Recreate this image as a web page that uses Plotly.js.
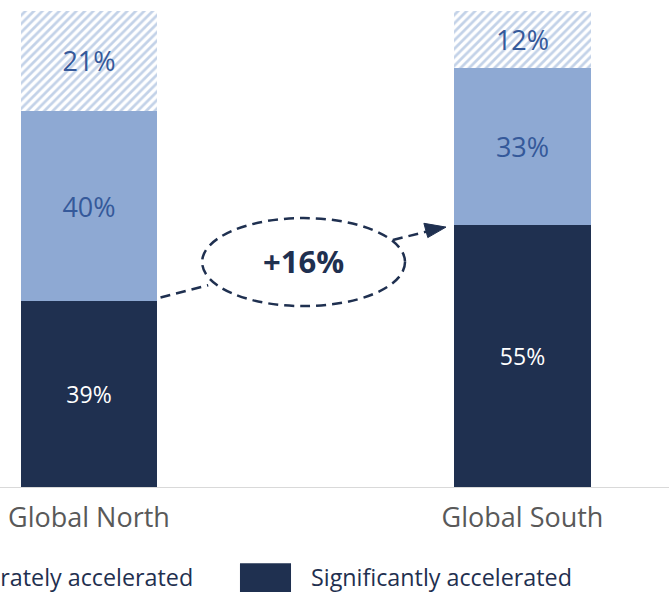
<!DOCTYPE html>
<html>
<head>
<meta charset="utf-8">
<script src="https://cdn.plot.ly/plotly-3.0.1.min.js"></script>
<style>html,body{margin:0;padding:0;background:#fff;}#chart{width:669px;height:592px;}</style>
</head>
<body>
<div id="chart"></div>
<script>
const categories = ["Global North", "Global South"];
const significantly = [39, 55];
const moderately = [40, 33];
const slightly = [21, 12];
const seriesNames = ["Significantly accelerated", "Moderately accelerated", "Slightly accelerated"];
const changeLabel = "+16%";

const NAVY = "#1F3050";
const LIGHT = "#8EA9D3";
const HATCH = "#C3D2E8";
const LBLUE = "#35599A";
const FONT = "Open Sans, Noto Sans, DejaVu Sans, sans-serif";
const BW = 0.314;

const pct = v => v.map(x => x + "%");

const traces = [
  {type: "bar", name: seriesNames[0], x: categories, y: significantly, width: BW,
   marker: {color: NAVY}, text: pct(significantly), textposition: "inside",
   insidetextanchor: "middle", textfont: {color: "#ffffff", size: 23, family: FONT}},
  {type: "bar", name: seriesNames[1], x: categories, y: moderately, width: BW,
   marker: {color: LIGHT}, text: pct(moderately), textposition: "inside",
   insidetextanchor: "middle", textfont: {color: LBLUE, size: 27, family: FONT}},
  {type: "bar", name: seriesNames[2], x: categories, y: slightly, width: BW,
   marker: {color: "#ffffff", pattern: {shape: "/", fgcolor: HATCH, bgcolor: "#ffffff", size: 6, solidity: 0.45}},
   text: pct(slightly), textposition: "inside",
   insidetextanchor: "middle", textfont: {color: LBLUE, size: 27, family: FONT}}
];

const n0 = significantly[0], s0 = significantly[1];
const DASH = {color: NAVY, width: 2.5, dash: "10px,6px"};
const shapes = [
  {type: "line", xref: "x", yref: "y", x0: 0.165, y0: n0 + 0.8, x1: 0.275, y1: n0 + 3.4, line: DASH},
  {type: "circle", xref: "x", yref: "y", x0: 0.261, x1: 0.729, y0: 38.0, y1: 56.5, line: DASH},
  {type: "line", xref: "x", yref: "y", x0: 0.701, y0: 51.9, x1: 0.785, y1: 53.8, line: DASH},
  {type: "path", xref: "x", yref: "y",
   path: "M 0.7725 " + (s0 + 0.4) + " L 0.8235 " + (s0 - 0.4) + " L 0.7815 " + (s0 - 2.6) + " Z",
   fillcolor: NAVY, line: {color: NAVY, width: 1}},
  {type: "rect", xref: "paper", yref: "paper", x0: 0.3587, x1: 0.435, y0: -0.16, y1: -0.26,
   fillcolor: NAVY, line: {width: 0}}
];

const annotations = [
  {xref: "x", yref: "y", x: 0.495, y: 47.4, text: "<b>" + changeLabel + "</b>", showarrow: false,
   font: {family: FONT, size: 31, color: NAVY}},
  {xref: "paper", yref: "paper", x: 0.4634, y: -0.189, xanchor: "left", yanchor: "middle", borderpad: 0,
   text: seriesNames[0], showarrow: false, font: {family: FONT, size: 23.3, color: NAVY}},
  {xref: "paper", yref: "paper", x: 0.29, y: -0.189, xanchor: "right", yanchor: "middle", borderpad: 0,
   text: seriesNames[1], showarrow: false, font: {family: FONT, size: 23.3, color: NAVY}}
];

const layout = {
  width: 669, height: 592,
  margin: {l: 0, r: 0, t: 11, b: 105, pad: 0},
  barmode: "stack",
  showlegend: false,
  paper_bgcolor: "#ffffff", plot_bgcolor: "#ffffff",
  font: {family: FONT},
  xaxis: {type: "category", range: [-0.2053, 1.3379], showline: true, linecolor: "#D9D9D9", linewidth: 1,
          ticks: "outside", ticklen: 7, tickcolor: "rgba(0,0,0,0)", showgrid: false, zeroline: false,
          tickfont: {family: FONT, size: 27, color: "#595959"}, fixedrange: true},
  yaxis: {range: [0, 100], visible: false, showgrid: false, zeroline: false, fixedrange: true},
  shapes: shapes,
  annotations: annotations,
  uniformtext: {mode: false}
};

Plotly.newPlot("chart", traces, layout, {displayModeBar: false, staticPlot: true});
</script>
</body>
</html>
